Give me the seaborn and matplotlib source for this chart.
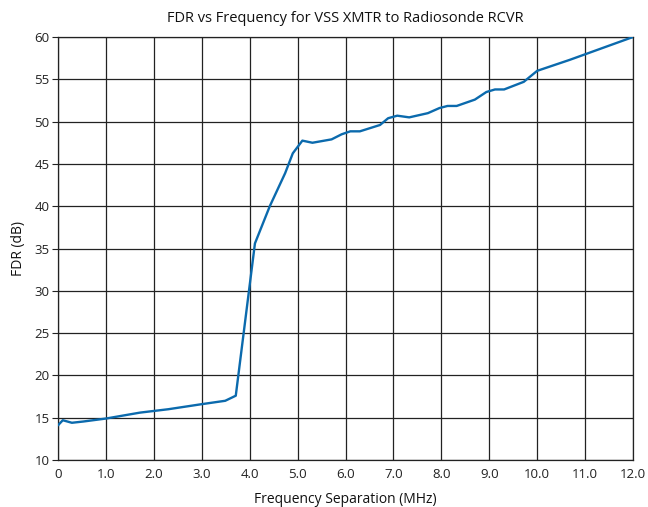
import matplotlib
matplotlib.use("Agg")
import matplotlib.pyplot as plt
import seaborn as sns
import pandas as pd

freq_mhz = [0.0, 0.1, 0.29, 0.53, 1.0, 1.71, 2.3, 3.0, 3.49, 3.71, 4.11, 4.42, 4.74, 4.9,
            5.1, 5.31, 5.71, 5.92, 6.1, 6.3, 6.72, 6.89, 7.08, 7.33, 7.72, 7.96, 8.13,
            8.32, 8.70, 8.94, 9.12, 9.31, 9.72, 10.0, 10.68, 12.0]
fdr_db = [14.1, 14.7, 14.4, 14.55, 14.9, 15.6, 16.0, 16.6, 17.0, 17.6, 35.6, 40.0, 43.9, 46.25,
          47.75, 47.5, 47.9, 48.5, 48.85, 48.85, 49.6, 50.4, 50.7, 50.5, 51.0, 51.6, 51.85,
          51.85, 52.6, 53.5, 53.8, 53.8, 54.7, 56.0, 57.3, 60.0]
x_ticks = [0, 1, 2, 3, 4, 5, 6, 7, 8, 9, 10, 11, 12]
x_tick_labels = ["0", "1.0", "2.0", "3.0", "4.0", "5.0", "6.0", "7.0", "8.0", "9.0", "10.0", "11.0", "12.0"]
y_ticks = [10, 15, 20, 25, 30, 35, 40, 45, 50, 55, 60]

sns.set_style("white")
plt.rcParams['font.family'] = ['Open Sans', 'DejaVu Sans']

df = pd.DataFrame({"freq": freq_mhz, "fdr": fdr_db})

fig = plt.figure(figsize=(6.48, 5.07), dpi=100)
ax = fig.add_axes([58/648, 47/507, (633-58)/648, (460-37)/507])
sns.lineplot(data=df, x="freq", y="fdr", ax=ax, color="#0b6aad", linewidth=1.7, zorder=3)

ax.set_xlim(0, 12)
ax.set_ylim(10, 60)
ax.set_xticks(x_ticks)
ax.set_xticklabels(x_tick_labels)
ax.set_yticks(y_ticks)
ax.grid(True, color="#222222", linewidth=0.9, zorder=0)
for s in ax.spines.values():
    s.set_color("#222222")
    s.set_linewidth(0.9)
ax.tick_params(axis="both", labelsize=9.5, colors="#222222", length=4, width=0.8, direction="out",
               left=True, bottom=False, pad=2)
ax.set_xlabel("Frequency Separation (MHz)", fontsize=10, color="#111111", labelpad=8)
ax.set_ylabel("FDR (dB)", fontsize=10, color="#111111", labelpad=6)
ax.set_title("FDR vs Frequency for VSS XMTR to Radiosonde RCVR", fontsize=10.5, color="#111111", pad=11)

fig.savefig("out.png", dpi=100)
